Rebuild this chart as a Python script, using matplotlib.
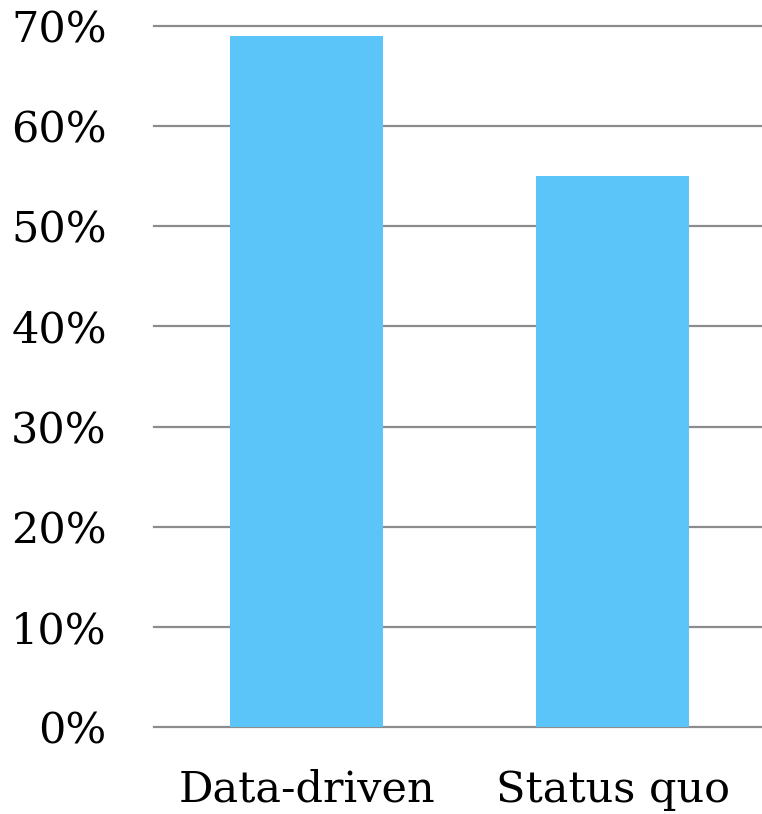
import matplotlib.pyplot as plt
from matplotlib.ticker import FuncFormatter

categories = ['Data-driven', 'Status quo']
shares = [69, 55]
y_ticks = [0, 10, 20, 30, 40, 50, 60, 70]

plt.rcParams['font.family'] = ['DejaVu Serif']

fig = plt.figure(figsize=(7.62, 8.14), dpi=100)
ax = fig.add_axes([154 / 762, 87 / 814, 608 / 762, 701 / 814])

ax.bar(range(len(categories)), shares, width=0.5, color='#5bc4f8', zorder=2)

ax.set_ylim(0, 70)
ax.set_xlim(-0.5, 1.487)
ax.set_yticks(y_ticks)
ax.yaxis.set_major_formatter(FuncFormatter(lambda v, p: f'{v:.0f}%'))
ax.set_xticks(range(len(categories)))
ax.set_xticklabels(categories)
ax.grid(axis='y', color='#8c8c8c', linewidth=1.6, zorder=1)
ax.set_axisbelow(True)
for gl in ax.get_ygridlines():
    gl.set_clip_on(False)

for s in ax.spines.values():
    s.set_visible(False)
ax.tick_params(axis='both', length=0, labelsize=31)
ax.tick_params(axis='y', pad=34)
ax.tick_params(axis='x', pad=30)

fig.savefig('out.png', dpi=100)
